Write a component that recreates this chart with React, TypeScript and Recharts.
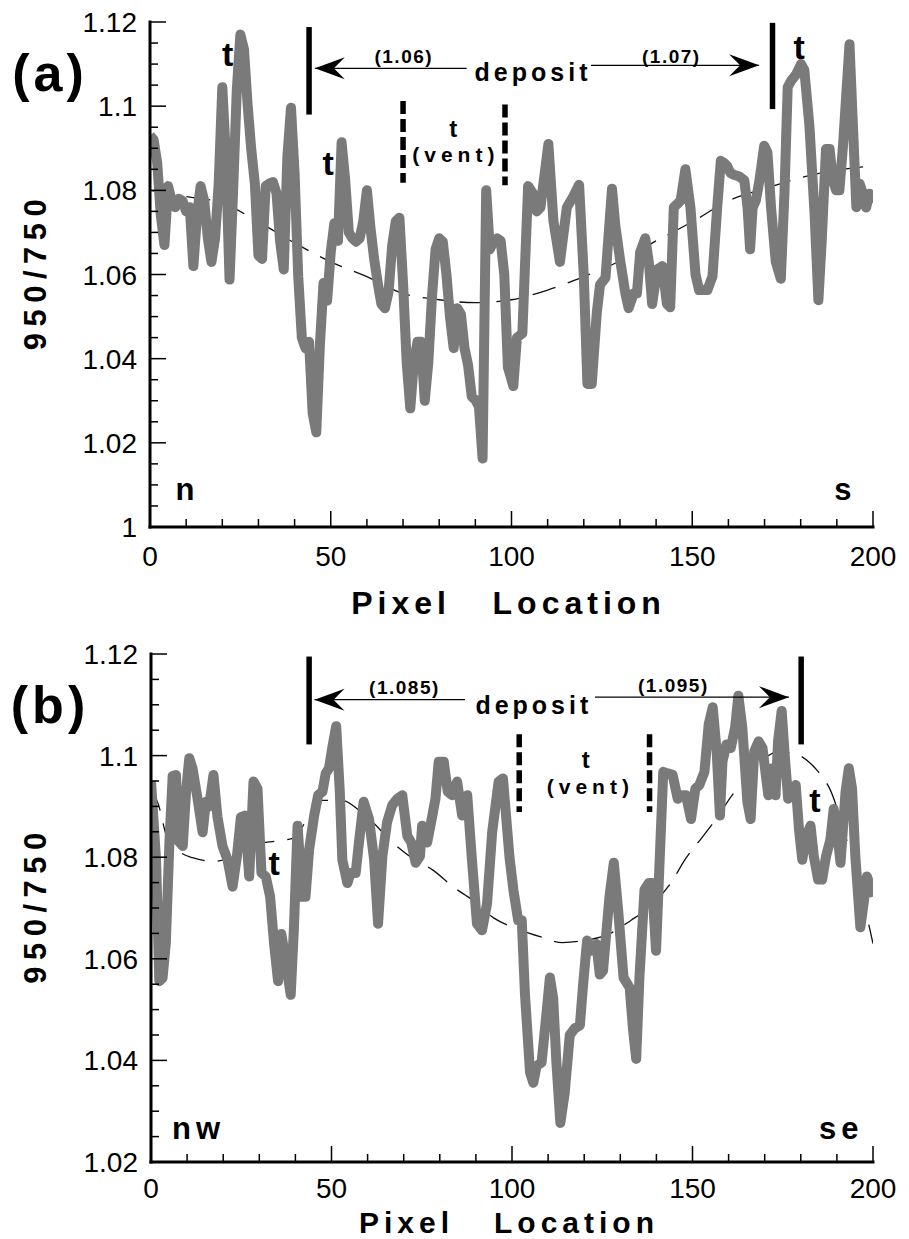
import React from 'react';
import { LineChart, Line, XAxis, YAxis, ReferenceLine, ReferenceDot } from 'recharts';

const FONT = '"Liberation Sans", Arial, Helvetica, sans-serif';

type Pt = [number, number];

// ---------- axis ticks ----------
const pixelTicks = [0, 10, 20, 30, 40, 50, 60, 70, 80, 90, 100, 110, 120, 130, 140, 150, 160, 170, 180, 190, 200];
const pixelLabels = [0, 50, 100, 150, 200];

const ratioTicksA = [1, 1.005, 1.01, 1.015, 1.02, 1.025, 1.03, 1.035, 1.04, 1.045, 1.05, 1.055, 1.06, 1.065, 1.07, 1.075, 1.08, 1.085, 1.09, 1.095, 1.1, 1.105, 1.11, 1.115, 1.12];
const ratioLabelsA = [1, 1.02, 1.04, 1.06, 1.08, 1.1, 1.12];
const ratioTicksB = [1.02, 1.025, 1.03, 1.035, 1.04, 1.045, 1.05, 1.055, 1.06, 1.065, 1.07, 1.075, 1.08, 1.085, 1.09, 1.095, 1.1, 1.105, 1.11, 1.115, 1.12];
const ratioLabelsB = [1.02, 1.04, 1.06, 1.08, 1.1, 1.12];

// ---------- panel (a): 950/750 ratio vs pixel location (n -> s) ----------
const ratioA: Pt[] = [
  [0, 1.093], [1, 1.092], [2, 1.0865], [3, 1.074], [4, 1.067], [5, 1.081], [6, 1.0775], [7, 1.076], [8, 1.078], [9, 1.0775],
  [10, 1.075], [11, 1.076], [12, 1.062], [13, 1.074], [14, 1.081], [15, 1.0775], [16, 1.0686], [17, 1.063], [18, 1.0686], [19, 1.0816],
  [20, 1.1045], [21, 1.088], [22, 1.0588], [23, 1.08], [24, 1.1037], [25, 1.117], [26, 1.1135], [27, 1.1004], [28, 1.0898], [29, 1.0816],
  [30, 1.0645], [31, 1.0637], [32, 1.081], [33, 1.0816], [34, 1.082], [35, 1.0793], [36, 1.0678], [37, 1.0612], [38, 1.088], [39, 1.0996],
  [40, 1.084], [41, 1.0596], [42, 1.045], [43, 1.0425], [44, 1.044], [45, 1.027], [46, 1.0225], [47, 1.0433], [48, 1.058], [49, 1.0538],
  [50, 1.0653], [51, 1.0722], [52, 1.068], [53, 1.0914], [54, 1.0824], [55, 1.07], [56, 1.0686], [57, 1.0678], [58, 1.0686], [59, 1.0727],
  [60, 1.08], [61, 1.071], [62, 1.0637], [63, 1.058], [64, 1.053], [65, 1.052], [66, 1.056], [67, 1.0669], [68, 1.0727], [69, 1.0735],
  [70, 1.058], [71, 1.0392], [72, 1.0282], [73, 1.0392], [74, 1.044], [75, 1.044], [76, 1.03], [77, 1.0392], [78, 1.0547], [79, 1.066],
  [80, 1.0686], [81, 1.0678], [82, 1.06], [83, 1.0498], [84, 1.0425], [85, 1.052], [86, 1.0506], [87, 1.0425], [88, 1.0384], [89, 1.031],
  [90, 1.0302], [91, 1.0286], [92, 1.0163], [93, 1.08], [94, 1.066], [95, 1.0678], [96, 1.0686], [97, 1.068], [98, 1.06], [99, 1.038],
  [100, 1.035], [100.5, 1.0335], [101.5, 1.045], [103, 1.046], [104.6, 1.081], [106, 1.0792], [107, 1.075], [108, 1.0759], [110.2, 1.091],
  [111.6, 1.0727], [113.4, 1.063], [115.3, 1.0759], [117, 1.0784], [118.7, 1.0813], [120, 1.0596], [121, 1.034], [122.2, 1.034],
  [123.6, 1.051], [124.5, 1.0576], [126, 1.0592], [127.8, 1.0804], [128.7, 1.0718], [130, 1.0637], [131.5, 1.0555], [132.4, 1.052],
  [133.8, 1.0555], [134.7, 1.0555], [135.6, 1.0653], [137, 1.0686], [138, 1.0629], [138.9, 1.053], [140.3, 1.0612], [141.7, 1.062],
  [143, 1.053], [143.9, 1.0522], [144.9, 1.076], [145.8, 1.0767], [146.8, 1.0776], [148.1, 1.085], [149.5, 1.0759], [150.9, 1.06],
  [151.9, 1.0563], [154.2, 1.0563], [155.6, 1.0596], [156.9, 1.0759], [157.9, 1.087], [158.8, 1.0865], [159.7, 1.0857], [160.6, 1.0841],
  [161.5, 1.0837], [163, 1.0833], [164.4, 1.0824], [165.3, 1.0759], [166, 1.066], [166.7, 1.0759], [167.6, 1.0776], [168.6, 1.0824],
  [169.9, 1.0906], [170.8, 1.089], [171.8, 1.0759], [173.1, 1.063], [174.5, 1.059], [175.5, 1.0792], [176.4, 1.1045], [177.3, 1.106],
  [178.7, 1.1075], [180.1, 1.11], [181, 1.1086], [182.4, 1.0955], [183.8, 1.075], [184.9, 1.0539], [185.8, 1.0678], [187, 1.0898],
  [188, 1.0898], [188.9, 1.0824], [189.8, 1.08], [190.7, 1.08], [191.7, 1.0906], [193.5, 1.1147], [194.4, 1.0963], [195.4, 1.076],
  [196.3, 1.0816], [197.2, 1.0792], [198.1, 1.0759], [199, 1.0792], [200, 1.077],
];

const trendA: Pt[] = [
  [0, 1.08], [10, 1.0785], [20, 1.077], [30, 1.0725], [40, 1.0675], [50, 1.063], [60, 1.0595], [70, 1.0555], [80, 1.054],
  [90, 1.0533], [100, 1.054], [110, 1.0563], [120, 1.0595], [130, 1.0632], [140, 1.068], [150, 1.0725], [160, 1.0775],
  [170, 1.0804], [180, 1.083], [190, 1.0848], [200, 1.0858],
];

// ---------- panel (b): 950/750 ratio vs pixel location (nw -> se) ----------
const ratioB: Pt[] = [
  [0, 1.095], [1.4, 1.0795], [2.3, 1.0556], [3.2, 1.0562], [4.1, 1.063], [5.1, 1.0829], [6, 1.096], [6.9, 1.0962], [7.8, 1.083],
  [8.8, 1.0822], [9.7, 1.0928], [10.6, 1.0995], [11.5, 1.0975], [12.9, 1.0915], [14.3, 1.0849], [15.2, 1.0909], [16.1, 1.09],
  [17.3, 1.0962], [18.4, 1.088], [19.8, 1.0822], [21.2, 1.0795], [22.6, 1.0742], [23.8, 1.0802], [24.9, 1.0879], [26, 1.0882],
  [27.2, 1.0762], [28.4, 1.0949], [29.5, 1.0935], [30.6, 1.0769], [31.8, 1.0762], [33, 1.0722], [34.1, 1.0629], [35.2, 1.0556],
  [36.1, 1.0649], [37.3, 1.0596], [38.7, 1.0529], [39.6, 1.0662], [40.6, 1.0862], [41.9, 1.0722], [42.8, 1.0722], [43.8, 1.0815],
  [45.2, 1.0882], [46.3, 1.0922], [47.5, 1.0929], [48.4, 1.0965], [49.3, 1.0975], [50.2, 1.1015], [51.3, 1.1058], [52.3, 1.0929],
  [53, 1.0795], [54.4, 1.0749], [55.3, 1.0769], [56.7, 1.0769], [57.6, 1.0829], [58.9, 1.0909], [60.4, 1.0875], [61.8, 1.0795],
  [62.9, 1.0669], [64.1, 1.0802], [65.4, 1.0869], [66.8, 1.0902], [68.2, 1.0915], [69.6, 1.0922], [71, 1.0842], [72.1, 1.0829],
  [73.3, 1.0789], [74.5, 1.0802], [75.1, 1.0862], [76.5, 1.0829], [77.4, 1.0862], [78.8, 1.0915], [79.7, 1.0988], [81.1, 1.0988],
  [82.2, 1.0929], [83.4, 1.0922], [84.8, 1.0949], [86.2, 1.0882], [87.6, 1.0922], [88.9, 1.0795], [90.3, 1.0669], [91.7, 1.0656],
  [93.1, 1.0709], [94.5, 1.0849], [96.3, 1.0949], [97.5, 1.0955], [99.3, 1.08], [100.4, 1.0735], [101.7, 1.0676], [102.7, 1.0676],
  [103.6, 1.0529], [105, 1.0376], [105.9, 1.0356], [106.8, 1.0389], [108.2, 1.0396], [109.6, 1.0496], [110.5, 1.0563], [111.4, 1.0523],
  [112.3, 1.0396], [113.4, 1.0277], [114.6, 1.0336], [116, 1.045], [117.4, 1.0463], [118.8, 1.0469], [119.7, 1.0549], [120.8, 1.0636],
  [122, 1.0616], [123.4, 1.0629], [124.3, 1.0569], [125.2, 1.0576], [126.1, 1.0649], [127, 1.0722], [128.2, 1.0789], [129.4, 1.0696],
  [130.9, 1.0563], [132.6, 1.0543], [133.5, 1.0463], [134.4, 1.0403], [135.3, 1.0563], [136.7, 1.0736], [137.9, 1.0749], [138.8, 1.0749],
  [139.9, 1.0616], [140.8, 1.0776], [141.9, 1.0968], [143.1, 1.0965], [144.5, 1.0962], [145.9, 1.0915], [147.1, 1.0922], [148.2, 1.0922],
  [149.6, 1.0875], [150.8, 1.0935], [151.9, 1.0942], [153.3, 1.0968], [154.5, 1.1062], [155.6, 1.1095], [156.7, 1.1008], [157.6, 1.0882],
  [158.3, 1.0988], [159.4, 1.1022], [160.6, 1.1015], [161.8, 1.1055], [162.7, 1.1118], [163.8, 1.1055], [165.2, 1.0909], [166.1, 1.0875],
  [167.1, 1.1008], [168.3, 1.1028], [169.4, 1.1015], [170.3, 1.0962], [171, 1.0922], [172.1, 1.0975], [173, 1.0922], [173.7, 1.1028],
  [174.7, 1.1088], [175.6, 1.0995], [176.5, 1.0915], [177.6, 1.0935], [178.6, 1.0942], [179.5, 1.0855], [180.4, 1.0795], [181.5, 1.0842],
  [182.7, 1.0862], [183.6, 1.0802], [184.8, 1.0756], [185.9, 1.0756], [187, 1.0802], [188.2, 1.0835], [189.1, 1.0895], [190, 1.0855],
  [191, 1.0789], [192.4, 1.0929], [193.3, 1.0975], [194.2, 1.0935], [195.1, 1.0802], [196.5, 1.0662], [197.4, 1.0709], [198.3, 1.0762],
  [199.3, 1.0742], [200, 1.0722],
];

const trendB: Pt[] = [
  [0, 1.0935], [2, 1.0905], [4.6, 1.0835], [8, 1.081], [11.5, 1.0799], [17, 1.0792], [23, 1.08], [29, 1.0825], [35, 1.0832],
  [39.6, 1.0838], [44, 1.0885], [47, 1.0912], [53, 1.0912], [58, 1.089], [62, 1.0865], [66, 1.0835], [72, 1.08], [78, 1.0775],
  [84, 1.074], [89, 1.0716], [95, 1.068], [101, 1.066], [108, 1.0643], [114, 1.0632], [120, 1.0636], [127, 1.0649], [133, 1.0676],
  [137, 1.0696], [144, 1.0749], [148, 1.0796], [153, 1.0842], [157, 1.088], [161, 1.0922], [165, 1.0955], [170, 1.0995],
  [174, 1.1008], [179, 1.1002], [184, 1.0975], [188, 1.0935], [194, 1.0808], [196, 1.0776], [198, 1.0696], [200, 1.063],
];

// ---------- annotations (data coordinates) ----------
type Bar = { x: number; y1: number; y2: number };
type Arrow = { x1: number; x2: number; y: number; dir: 'left' | 'right' };
type Note = { x: number; y: number; text: string; kind: string };

const depositBarsA: Bar[] = [{ x: 44, y1: 1.1188, y2: 1.098 }, { x: 172.2, y1: 1.1198, y2: 1.0993 }];
const ventLinesA: Bar[] = [{ x: 70, y1: 1.1012, y2: 1.0818 }, { x: 98.2, y1: 1.1004, y2: 1.0812 }];
const arrowsA: Arrow[] = [{ x1: 45.6, x2: 87.6, y: 1.109, dir: 'left' }, { x1: 122, x2: 168.5, y: 1.1097, dir: 'right' }];
const notesA: Note[] = [
  { x: 21.5, y: 1.1125, text: 't', kind: 't' },
  { x: 49.3, y: 1.0865, text: 't', kind: 't' },
  { x: 179.6, y: 1.114, text: 't', kind: 't' },
  { x: 70, y: 1.1118, text: '(1.06)', kind: 'val' },
  { x: 144, y: 1.1118, text: '(1.07)', kind: 'val' },
  { x: 105.4, y: 1.1082, text: 'deposit', kind: 'dep' },
  { x: 83.9, y: 1.0947, text: 't', kind: 'vt' },
  { x: 83.9, y: 1.0886, text: '(vent)', kind: 'vent' },
  { x: 9.7, y: 1.009, text: 'n', kind: 'dir' },
  { x: 191.7, y: 1.009, text: 's', kind: 'dir' },
];

const depositBarsB: Bar[] = [{ x: 43.8, y1: 1.1195, y2: 1.1022 }, { x: 180.1, y1: 1.1195, y2: 1.1022 }];
const ventLinesB: Bar[] = [{ x: 102, y1: 1.1042, y2: 1.0889 }, { x: 138.1, y1: 1.1042, y2: 1.0889 }];
const arrowsB: Arrow[] = [{ x1: 45.3, x2: 87, y: 1.111, dir: 'left' }, { x1: 123, x2: 176.7, y: 1.1115, dir: 'right' }];
const notesB: Note[] = [
  { x: 34.1, y: 1.0789, text: 't', kind: 't' },
  { x: 183.9, y: 1.0912, text: 't', kind: 't' },
  { x: 70, y: 1.1135, text: '(1.085)', kind: 'val' },
  { x: 144.5, y: 1.1138, text: '(1.095)', kind: 'val' },
  { x: 105.5, y: 1.11, text: 'deposit', kind: 'dep' },
  { x: 120.4, y: 1.0992, text: 't', kind: 'vt' },
  { x: 121, y: 1.0939, text: '(vent)', kind: 'vent' },
  { x: 12.5, y: 1.0266, text: 'nw', kind: 'dir' },
  { x: 190.5, y: 1.0266, text: 'se', kind: 'dir' },
];

// ---------- styling helpers ----------
const noteStyle: Record<string, { size: number; ls: number }> = {
  t: { size: 34, ls: 0 },
  val: { size: 19, ls: 1.5 },
  dep: { size: 25, ls: 4 },
  vt: { size: 24, ls: 0 },
  vent: { size: 21, ls: 5 },
  dir: { size: 31, ls: 5 },
};

const toRows = (pts: Pt[]) => pts.map(([x, y]) => ({ x, y }));
const isMajor = (v: number, labels: number[]) => labels.some((l) => Math.abs(l - v) < 1e-9);

const makeBottomTick = (labels: number[], dy: number) => (p: any) => {
  const v = p.payload.value;
  const major = isMajor(v, labels);
  return (
    <g>
      <line x1={p.x} x2={p.x} y1={p.y} y2={p.y - (major ? 16 : 8)} stroke="#000" strokeWidth={1.5} />
      {major && (
        <text x={p.x} y={p.y + dy} textAnchor="middle" fontSize={28} fontFamily={FONT} fill="#000">
          {String(v)}
        </text>
      )}
    </g>
  );
};

const makeTopTick = (labels: number[]) => (p: any) => {
  const major = isMajor(p.payload.value, labels);
  return <line x1={p.x} x2={p.x} y1={p.y} y2={p.y + (major ? 16 : 8)} stroke="#000" strokeWidth={1.5} />;
};

const makeLeftTick = (labels: number[]) => (p: any) => {
  const v = p.payload.value;
  const major = isMajor(v, labels);
  return (
    <g>
      <line x1={p.x} x2={p.x + (major ? 16 : 8)} y1={p.y} y2={p.y} stroke="#000" strokeWidth={1.5} />
      {major && (
        <text x={p.x - 13} y={p.y + 10} textAnchor="end" fontSize={28} fontFamily={FONT} fill="#000">
          {String(v)}
        </text>
      )}
    </g>
  );
};

const makeRightTick = (labels: number[]) => (p: any) => {
  const major = isMajor(p.payload.value, labels);
  return <line x1={p.x} x2={p.x - (major ? 14 : 8)} y1={p.y} y2={p.y} stroke="#000" strokeWidth={1.5} />;
};

const makeXTitle = (dy: number, size: number) => (props: any) => {
  const vb = props.viewBox || { x: 150, y: 527, width: 723, height: 100 };
  return (
    <text
      x={vb.x + vb.width / 2 - 3}
      y={vb.y + dy}
      textAnchor="middle"
      dominantBaseline="central"
      fontSize={size}
      fontWeight="bold"
      letterSpacing={5}
      fontFamily={FONT}
      fill="#000"
    >
      {'Pixel\u00A0\u00A0\u00A0Location'}
    </text>
  );
};

const makeYTitle = (tag: string, tagDy: number) => (props: any) => {
  const vb = props.viewBox || { x: 0, y: 22, width: 150, height: 505 };
  const cy = vb.y + vb.height / 2;
  return (
    <g>
      <text
        transform={`translate(35, ${cy - 3}) rotate(-90)`}
        textAnchor="middle"
        dominantBaseline="central"
        fontSize={31}
        fontWeight="bold"
        letterSpacing={6.5}
        fontFamily={FONT}
        fill="#000"
      >
        950/750
      </text>
      <text
        x={50}
        y={vb.y + tagDy}
        textAnchor="middle"
        dominantBaseline="central"
        fontSize={52}
        fontWeight="bold"
        letterSpacing={4}
        fontFamily={FONT}
        fill="#000"
      >
        {tag}
      </text>
    </g>
  );
};

const makeNote = (n: Note) => (p: any) => {
  const st = noteStyle[n.kind];
  return (
    <text
      x={p.cx + st.ls / 2}
      y={p.cy}
      textAnchor="middle"
      dominantBaseline="central"
      fontSize={st.size}
      fontWeight="bold"
      letterSpacing={st.ls}
      fontFamily={FONT}
      fill="#000"
    >
      {n.text}
    </text>
  );
};

const makeArrowHead = (dir: 'left' | 'right') => (p: any) => {
  const s = dir === 'left' ? 1 : -1;
  const { cx, cy } = p;
  return (
    <polygon
      points={`${cx},${cy} ${cx + s * 30},${cy - 11} ${cx + s * 19},${cy} ${cx + s * 30},${cy + 11}`}
      fill="#000"
    />
  );
};

const frame = { stroke: '#000', strokeWidth: 3, strokeLinecap: 'square' as const };

type PanelCfg = {
  tag: string;
  series: Pt[];
  trend: Pt[];
  yDomain: [number, number];
  yTicks: number[];
  yLabels: number[];
  height: number;
  marginTop: number;
  yAxisWidth: number;
  xAxisHeight: number;
  xLabelDy: number;
  xTitleDy: number;
  xTitleSize: number;
  bars: Bar[];
  vents: Bar[];
  arrows: Arrow[];
  notes: Note[];
};

function Panel({ cfg }: { cfg: PanelCfg }) {
  const ax = { xAxisId: 'b', yAxisId: 'l' };
  return (
    <LineChart width={909} height={cfg.height} margin={{ top: cfg.marginTop, right: 36, bottom: 0, left: 0 }}>
      <XAxis
        xAxisId="b"
        type="number"
        dataKey="x"
        domain={[0, 200]}
        allowDataOverflow
        ticks={pixelTicks}
        interval={0}
        tickSize={0}
        tickMargin={0}
        tickLine={false}
        height={cfg.xAxisHeight}
        axisLine={frame}
        tick={makeBottomTick(pixelLabels, cfg.xLabelDy)}
        label={{ content: makeXTitle(cfg.xTitleDy, cfg.xTitleSize) } as any}
      />
      <XAxis
        xAxisId="t"
        orientation="top"
        type="number"
        dataKey="x"
        domain={[0, 200]}
        allowDataOverflow
        ticks={pixelTicks}
        interval={0}
        tickSize={0}
        tickMargin={0}
        tickLine={false}
        height={0}
        axisLine={frame}
        tick={makeTopTick(pixelLabels)}
      />
      <YAxis
        yAxisId="l"
        type="number"
        dataKey="y"
        domain={cfg.yDomain}
        allowDataOverflow
        ticks={cfg.yTicks}
        interval={0}
        tickSize={0}
        tickMargin={0}
        tickLine={false}
        width={cfg.yAxisWidth}
        axisLine={frame}
        tick={makeLeftTick(cfg.yLabels)}
        label={{ content: makeYTitle(cfg.tag, 51) } as any}
      />
      <YAxis
        yAxisId="r"
        orientation="right"
        type="number"
        dataKey="y"
        domain={cfg.yDomain}
        allowDataOverflow
        ticks={cfg.yTicks}
        interval={0}
        tickSize={0}
        tickMargin={0}
        tickLine={false}
        width={0}
        axisLine={frame}
        tick={makeRightTick(cfg.yLabels)}
      />
      <Line
        xAxisId="t"
        yAxisId="r"
        data={toRows(cfg.trend)}
        dataKey="y"
        type="monotone"
        stroke="#111"
        strokeWidth={1.3}
        strokeDasharray="24 13"
        dot={false}
        activeDot={false}
        isAnimationActive={false}
      />
      <Line
        {...ax}
        data={toRows(cfg.series)}
        dataKey="y"
        type="linear"
        stroke="#7a7a7a"
        strokeWidth={10}
        strokeLinejoin="round"
        dot={false}
        activeDot={false}
        isAnimationActive={false}
      />
      {cfg.bars.map((b, i) => (
        <ReferenceLine
          key={`bar${i}`}
          {...ax}
          segment={[{ x: b.x, y: b.y1 }, { x: b.x, y: b.y2 }]}
          stroke="#000"
          strokeWidth={5.5}
        />
      ))}
      {cfg.vents.map((b, i) => (
        <ReferenceLine
          key={`vent${i}`}
          {...ax}
          segment={[{ x: b.x, y: b.y1 }, { x: b.x, y: b.y2 }]}
          stroke="#000"
          strokeWidth={5.5}
          strokeDasharray="13 5"
        />
      ))}
      {cfg.arrows.map((a, i) => (
        <ReferenceLine
          key={`arr${i}`}
          {...ax}
          segment={[{ x: a.x1, y: a.y }, { x: a.x2, y: a.y }]}
          stroke="#000"
          strokeWidth={1.2}
        />
      ))}
      {cfg.arrows.map((a, i) => (
        <ReferenceDot
          key={`head${i}`}
          {...ax}
          x={a.dir === 'left' ? a.x1 : a.x2}
          y={a.y}
          r={0}
          shape={makeArrowHead(a.dir)}
        />
      ))}
      {cfg.notes.map((n, i) => (
        <ReferenceDot key={`note${i}`} {...ax} x={n.x} y={n.y} r={0} shape={makeNote(n)} />
      ))}
    </LineChart>
  );
}

const panelA: PanelCfg = {
  tag: '(a)',
  series: ratioA,
  trend: trendA,
  yDomain: [1, 1.12],
  yTicks: ratioTicksA,
  yLabels: ratioLabelsA,
  height: 640,
  marginTop: 22,
  yAxisWidth: 150,
  xAxisHeight: 113,
  xLabelDy: 39,
  xTitleDy: 76,
  xTitleSize: 32,
  bars: depositBarsA,
  vents: ventLinesA,
  arrows: arrowsA,
  notes: notesA,
};

const panelB: PanelCfg = {
  tag: '(b)',
  series: ratioB,
  trend: trendB,
  yDomain: [1.02, 1.12],
  yTicks: ratioTicksB,
  yLabels: ratioLabelsB,
  height: 599,
  marginTop: 14,
  yAxisWidth: 151,
  xAxisHeight: 77,
  xLabelDy: 36,
  xTitleDy: 60,
  xTitleSize: 30,
  bars: depositBarsB,
  vents: ventLinesB,
  arrows: arrowsB,
  notes: notesB,
};

export default function App() {
  return (
    <div style={{ position: 'absolute', left: 0, top: 0, width: 909, height: 1239, background: '#fff', fontFamily: FONT }}>
      <div style={{ position: 'absolute', left: 0, top: 0 }}>
        <Panel cfg={panelA} />
      </div>
      <div style={{ position: 'absolute', left: 0, top: 640 }}>
        <Panel cfg={panelB} />
      </div>
    </div>
  );
}
